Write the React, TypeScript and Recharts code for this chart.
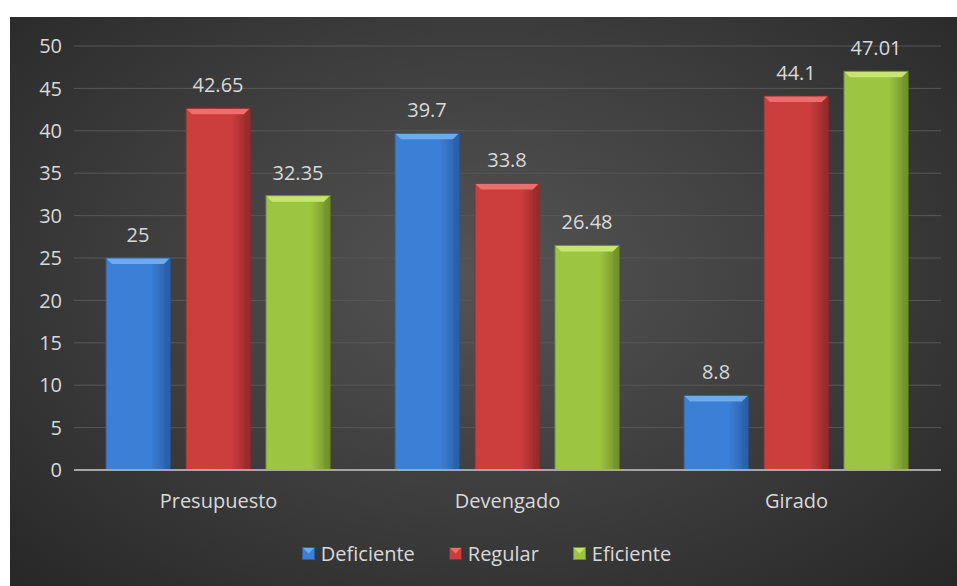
import React from "react";
import {
  BarChart,
  Bar,
  XAxis,
  YAxis,
  CartesianGrid,
  Legend,
  LabelList,
} from "recharts";

const CATEGORIES = ["Presupuesto", "Devengado", "Girado"];
const DEFICIENTE = [25, 39.7, 8.8];
const REGULAR = [42.65, 33.8, 44.1];
const EFICIENTE = [32.35, 26.48, 47.01];
const Y_TICKS = [0, 5, 10, 15, 20, 25, 30, 35, 40, 45, 50];

const SERIES = [
  { key: "Deficiente", base: "#3c7fd6", light: "#6eaaf0", dark: "#2a5ea6" },
  { key: "Regular", base: "#cc3e3e", light: "#ee6d6d", dark: "#962a2a" },
  { key: "Eficiente", base: "#9cc541", light: "#c8e570", dark: "#718f2a" },
];

const data = CATEGORIES.map((name, i) => ({
  name,
  Deficiente: DEFICIENTE[i],
  Regular: REGULAR[i],
  Eficiente: EFICIENTE[i],
}));

const FONT = "'Open Sans', sans-serif";
const TEXT = "#d9d9d9";

// barra con bisel arriba, como el estilo de Excel
const BevelBar = (props: any) => {
  const { x, y, width, height, index, seriesIdx } = props;
  if (height <= 0) return <g />;
  const s = SERIES[seriesIdx];
  const b = Math.min(6, height / 2);
  const id = `g-${seriesIdx}`;
  return (
    <g key={`${seriesIdx}-${index}`}>
      <rect x={x} y={y} width={width} height={height} fill={`url(#${id})`} />
      <polygon
        points={`${x},${y} ${x + width},${y} ${x + width - b},${y + b} ${x + b},${y + b}`}
        fill={s.light}
      />
      <polygon
        points={`${x + width},${y} ${x + width - b},${y + b} ${x + width - b},${y + height} ${x + width},${y + height}`}
        fill={s.dark}
        opacity={0.4}
      />
      <rect x={x} y={y} width={width} height={height} fill="none" stroke={s.dark} strokeWidth={1} />
    </g>
  );
};

const LegendContent = () => (
  <div
    style={{
      display: "flex",
      justifyContent: "center",
      gap: 34,
      fontFamily: FONT,
      fontSize: 20,
      color: TEXT,
      marginLeft: 22,
    }}
  >
    {SERIES.map((s) => (
      <div key={s.key} style={{ display: "flex", alignItems: "center", gap: 6 }}>
        <svg width={13} height={13}>
          <rect x={0.5} y={0.5} width={12} height={12} fill={s.base} stroke={s.dark} />
          <polygon points="1,1 12,1 6.5,6.5" fill={s.light} />
        </svg>
        <span>{s.key}</span>
      </div>
    ))}
  </div>
);

export default function App() {
  return (
    <div
      style={{
        position: "absolute",
        left: 10,
        top: 17,
        width: 947,
        height: 569,
        background: "radial-gradient(ellipse at 50% 45%, #545454 0%, #3c3c3c 55%, #272727 100%)",
      }}
    >
      <BarChart
        width={947}
        height={569}
        data={data}
        margin={{ top: 29, right: 16, left: 0, bottom: 0 }}
        barGap={16}
        barCategoryGap={32}
      >
        <defs>
          {SERIES.map((s, i) => (
            <linearGradient key={s.key} id={`g-${i}`} x1="0" y1="0" x2="1" y2="0">
              <stop offset="0%" stopColor={s.base} />
              <stop offset="70%" stopColor={s.base} />
              <stop offset="100%" stopColor={s.dark} />
            </linearGradient>
          ))}
        </defs>
        <CartesianGrid vertical={false} stroke="#575757" strokeWidth={1} />
        <XAxis
          dataKey="name"
          height={70}
          axisLine={{ stroke: "#a6a6a6", strokeWidth: 2 }}
          tickLine={false}
          tickMargin={18}
          tick={{ fill: TEXT, fontSize: 20, fontFamily: FONT }}
        />
        <YAxis
          width={64}
          domain={[0, 50]}
          ticks={Y_TICKS}
          axisLine={false}
          tickLine={false}
          tickSize={0}
          tickMargin={12}
          tick={{ fill: TEXT, fontSize: 20, fontFamily: FONT }}
        />
        <Legend verticalAlign="bottom" height={46} content={<LegendContent />} />
        {SERIES.map((s, i) => (
          <Bar
            key={s.key}
            dataKey={s.key}
            fill={s.base}
            isAnimationActive={false}
            shape={(p: any) => <BevelBar {...p} seriesIdx={i} />}
          >
            <LabelList
              dataKey={s.key}
              position="top"
              offset={16}
              fill={TEXT}
              fontSize={20}
              fontFamily={FONT}
            />
          </Bar>
        ))}
      </BarChart>
    </div>
  );
}
